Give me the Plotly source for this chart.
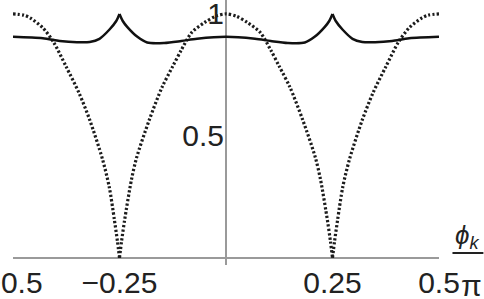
import plotly.graph_objects as go

# Dotted curve (three arches, split at the cusps at ±0.25)
dotted_x = [-0.5, -0.475, -0.46, -0.43, -0.405, -0.375, -0.345, -0.32, -0.29, -0.274, -0.262, -0.255, -0.25,
            None,
            -0.25, -0.245, -0.238, -0.222, -0.21, -0.18, -0.15, -0.125, -0.105, -0.08, -0.05, -0.025, 0.0,
            0.025, 0.05, 0.08, 0.105, 0.125, 0.15, 0.18, 0.21, 0.222, 0.238, 0.245, 0.25,
            None,
            0.25, 0.255, 0.262, 0.274, 0.29, 0.32, 0.345, 0.375, 0.405, 0.43, 0.46, 0.475, 0.5]
dotted_y = [1.0, 0.995, 0.984, 0.943, 0.885, 0.783, 0.676, 0.566, 0.405, 0.29, 0.156, 0.07, 0.0,
            None,
            0.0, 0.07, 0.155, 0.32, 0.41, 0.566, 0.70, 0.785, 0.852, 0.925, 0.965, 0.99, 1.0,
            0.99, 0.965, 0.925, 0.852, 0.785, 0.70, 0.566, 0.41, 0.32, 0.155, 0.07, 0.0,
            None,
            0.0, 0.07, 0.156, 0.29, 0.405, 0.566, 0.676, 0.783, 0.885, 0.943, 0.984, 0.995, 1.0]

# Solid curve (cusps at ±0.25)
solid_x = [-0.5, -0.43, -0.39, -0.35, -0.32, -0.297, -0.274, -0.258, -0.25,
           None,
           -0.25, -0.242, -0.232, -0.208, -0.185, -0.145, -0.105, -0.068, 0.0,
           0.068, 0.105, 0.145, 0.185, 0.208, 0.232, 0.242, 0.25,
           None,
           0.25, 0.258, 0.274, 0.297, 0.32, 0.35, 0.39, 0.43, 0.5]
solid_y = [0.906, 0.900, 0.889, 0.884, 0.885, 0.898, 0.935, 0.97, 1.0,
           None,
           1.0, 0.97, 0.947, 0.906, 0.883, 0.881, 0.889, 0.898, 0.906,
           0.898, 0.889, 0.881, 0.883, 0.906, 0.947, 0.97, 1.0,
           None,
           1.0, 0.97, 0.935, 0.898, 0.885, 0.884, 0.889, 0.900, 0.906]

x_tickvals = [-0.5, -0.25, 0.25, 0.5]
x_ticktext = ["\u22120.5", "\u22120.25", "0.25", "0.5"]
y_tickvals = [0.5, 1.0]
y_ticktext = ["0.5", "1"]

W, H = 484, 299
L, R, T, B = 12.5, 44.5, 0, 34
y_range = [-0.029, 1.057]
x_range = [-0.5, 0.5]

FONT = "Liberation Sans, Arial, sans-serif"
TXT = "#222222"
AX = "#9a9a9a"
FS = 30

fig = go.Figure()
fig.add_trace(go.Scatter(x=dotted_x, y=dotted_y, mode="lines", connectgaps=False,
                         line=dict(color="#1c1c1c", width=3.2, dash="2.3px,2.1px", shape="spline", smoothing=0.8),
                         hoverinfo="skip", showlegend=False))
fig.add_trace(go.Scatter(x=solid_x, y=solid_y, mode="lines", connectgaps=False,
                         line=dict(color="#111111", width=2.5, shape="spline", smoothing=0.8),
                         hoverinfo="skip", showlegend=False))

x_pos = (0 - y_range[0]) / (y_range[1] - y_range[0])

fig.update_layout(
    width=W, height=H,
    margin=dict(l=L, r=R, t=T, b=B, pad=0, autoexpand=False),
    paper_bgcolor="white", plot_bgcolor="white",
    font=dict(family=FONT, size=FS, color=TXT),
    xaxis=dict(range=x_range, showgrid=False, showline=False, zeroline=True,
               zerolinecolor=AX, zerolinewidth=1.6, automargin=False,
               tickmode="array", tickvals=x_tickvals, ticktext=x_ticktext,
               ticks="", anchor="free", position=x_pos,
               ticklabeloverflow="allow", ticklabelstandoff=4,
               tickfont=dict(family=FONT, size=FS, color=TXT)),
    yaxis=dict(range=y_range, showgrid=False, showline=False, zeroline=True,
               zerolinecolor=AX, zerolinewidth=1.6, automargin=False,
               tickmode="array", tickvals=y_tickvals, ticktext=y_ticktext,
               ticks="", anchor="free", position=0.5,
               ticklabeloverflow="allow", ticklabelstandoff=2,
               tickfont=dict(family=FONT, size=FS, color=TXT)),
)

plot_w = W - L - R
plot_h = H - T - B

def px_to_paper_x(px):
    return (px - L) / plot_w

def px_to_paper_y(py):
    return (H - B - py) / plot_h

fig.add_annotation(text="<i>\u03d5</i><sub><i>k</i></sub>", xref="paper", yref="paper",
                   x=px_to_paper_x(468), y=px_to_paper_y(236), showarrow=False,
                   xanchor="center", yanchor="middle",
                   font=dict(family=FONT, size=26, color=TXT))
fig.add_annotation(text="\u03c0", xref="paper", yref="paper",
                   x=px_to_paper_x(472), y=px_to_paper_y(285), showarrow=False,
                   xanchor="center", yanchor="middle",
                   font=dict(family=FONT, size=30, color=TXT))
fig.add_shape(type="line", xref="paper", yref="paper",
              x0=px_to_paper_x(453), x1=px_to_paper_x(484),
              y0=px_to_paper_y(253), y1=px_to_paper_y(253),
              line=dict(color=TXT, width=2))

fig.write_html("out.html")
